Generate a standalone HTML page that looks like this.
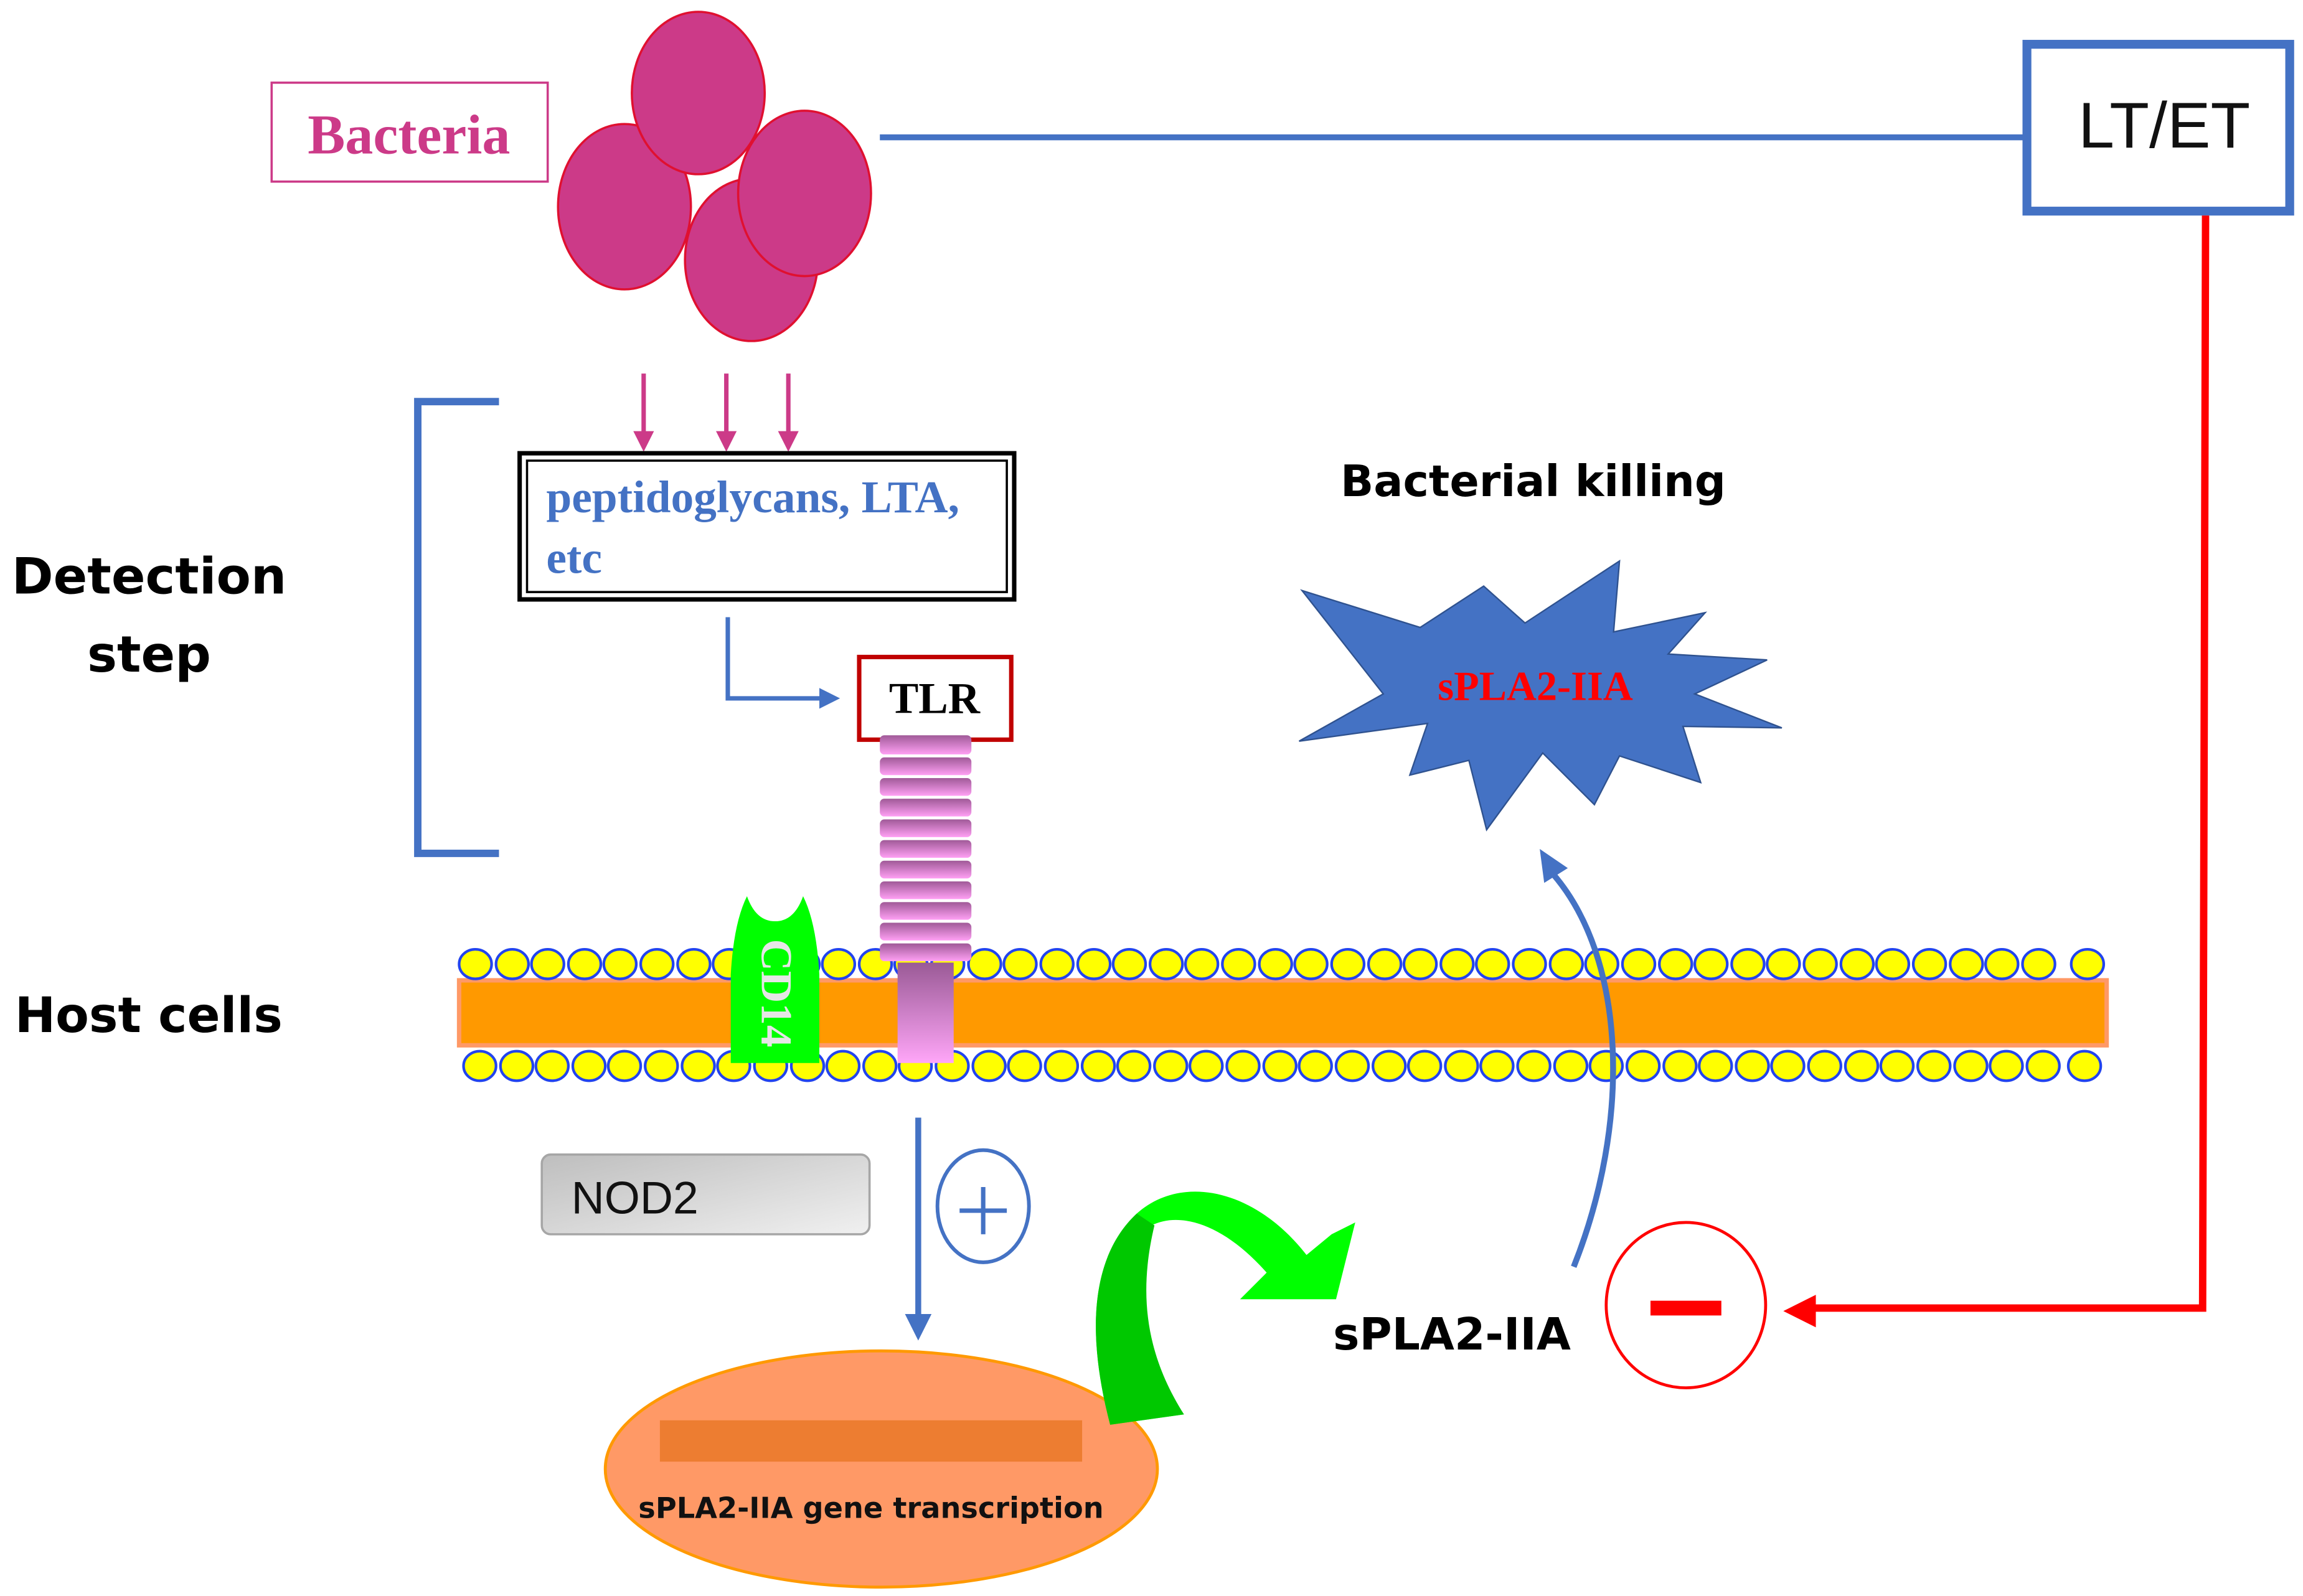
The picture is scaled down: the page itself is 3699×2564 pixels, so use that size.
<!DOCTYPE html>
<html><head><meta charset="utf-8"><style>html,body{margin:0;padding:0;background:#fff}svg{display:block}</style></head>
<body>
<svg width="3699" height="2564" viewBox="0 0 1560 1081" xmlns="http://www.w3.org/2000/svg" preserveAspectRatio="none">
<defs>
<linearGradient id="tl" x1="0" y1="0" x2="0" y2="1"><stop offset="0" stop-color="#A05A98"/><stop offset="1" stop-color="#FFA0F4"/></linearGradient>
<linearGradient id="st" x1="0" y1="0" x2="0" y2="1"><stop offset="0" stop-color="#9A5A96"/><stop offset="1" stop-color="#FFA6F8"/></linearGradient>
<linearGradient id="nd" x1="0" y1="0" x2="1" y2="1"><stop offset="0" stop-color="#BEBEBE"/><stop offset="1" stop-color="#F0F0F0"/></linearGradient>
</defs>
<rect width="1560" height="1081" fill="#fff"/>
<!-- bacteria -->
<rect x="184" y="56" width="187" height="67" fill="#fff" stroke="#CC3A88" stroke-width="1.5"/>
<text x="277" y="104" text-anchor="middle" font-family="Liberation Serif, serif" font-weight="bold" font-size="38" fill="#CC3A88">Bacteria</text>
<g fill="#CC3A88" stroke="#E01030" stroke-width="1.5">
<ellipse cx="423" cy="140" rx="45" ry="56"/>
<ellipse cx="509" cy="176" rx="45" ry="55"/>
<ellipse cx="473" cy="63" rx="45" ry="55"/>
<ellipse cx="545" cy="131" rx="45" ry="56"/>
</g>
<!-- LT/ET -->
<line x1="596" y1="93" x2="1372" y2="93" stroke="#4472C4" stroke-width="4"/>
<rect x="1373" y="30" width="178" height="113" fill="#fff" stroke="#4472C4" stroke-width="6"/>
<text x="1466" y="100" text-anchor="middle" font-family="Liberation Sans, sans-serif" font-size="44" fill="#111">LT/ET</text>
<polyline points="1494,146 1492,886 1225,886" fill="none" stroke="#FF0000" stroke-width="5"/>
<polygon points="1208,888 1230,877 1230,899" fill="#FF0000"/>
<!-- bracket -->
<polyline points="338,272 283,272 283,578 338,578" fill="none" stroke="#4472C4" stroke-width="5"/>
<text x="101" y="402" text-anchor="middle" font-family="DejaVu Sans, sans-serif" font-weight="bold" font-size="34" fill="#000">Detection</text>
<text x="101" y="455" text-anchor="middle" font-family="DejaVu Sans, sans-serif" font-weight="bold" font-size="34" fill="#000">step</text>
<text x="10" y="699" font-family="DejaVu Sans, sans-serif" font-weight="bold" font-size="33" fill="#000">Host cells</text>
<!-- pink arrows -->
<g stroke="#CC3A88" stroke-width="3"><line x1="436" y1="253" x2="436" y2="298"/><line x1="492" y1="253" x2="492" y2="298"/><line x1="534" y1="253" x2="534" y2="298"/></g>
<g fill="#CC3A88"><polygon points="429,292 443,292 436,306"/><polygon points="485,292 499,292 492,306"/><polygon points="527,292 541,292 534,306"/></g>
<!-- peptidoglycans -->
<rect x="352" y="307" width="335" height="99" fill="#fff" stroke="#000" stroke-width="3"/>
<rect x="357" y="312" width="325" height="89" fill="none" stroke="#000" stroke-width="1.5"/>
<text font-family="Liberation Serif, serif" font-weight="bold" font-size="31" fill="#4472C4"><tspan x="370" y="347">peptidoglycans, LTA,</tspan><tspan x="370" y="388">etc</tspan></text>
<polyline points="493,418 493,473 558,473" fill="none" stroke="#4472C4" stroke-width="3"/>
<polygon points="569,473 555,466 555,480" fill="#4472C4"/>
<!-- TLR -->
<rect x="582" y="445" width="103" height="56" fill="#fff" stroke="#C00000" stroke-width="3"/>
<text x="633" y="483" text-anchor="middle" font-family="Liberation Serif, serif" font-weight="bold" font-size="30" fill="#000">TLR</text>
<!-- membrane -->
<rect x="311" y="664" width="1116" height="44" fill="#FF9900" stroke="#FF9966" stroke-width="3"/>
<g fill="#FFFF00" stroke="#2244EE" stroke-width="1.8">
<ellipse cx="322" cy="653" rx="11" ry="10"/><ellipse cx="347" cy="653" rx="11" ry="10"/><ellipse cx="371" cy="653" rx="11" ry="10"/><ellipse cx="396" cy="653" rx="11" ry="10"/><ellipse cx="420" cy="653" rx="11" ry="10"/><ellipse cx="445" cy="653" rx="11" ry="10"/><ellipse cx="470" cy="653" rx="11" ry="10"/><ellipse cx="494" cy="653" rx="11" ry="10"/><ellipse cx="519" cy="653" rx="11" ry="10"/><ellipse cx="544" cy="653" rx="11" ry="10"/><ellipse cx="568" cy="653" rx="11" ry="10"/><ellipse cx="593" cy="653" rx="11" ry="10"/><ellipse cx="617" cy="653" rx="11" ry="10"/><ellipse cx="642" cy="653" rx="11" ry="10"/><ellipse cx="667" cy="653" rx="11" ry="10"/><ellipse cx="691" cy="653" rx="11" ry="10"/><ellipse cx="716" cy="653" rx="11" ry="10"/><ellipse cx="741" cy="653" rx="11" ry="10"/><ellipse cx="765" cy="653" rx="11" ry="10"/><ellipse cx="790" cy="653" rx="11" ry="10"/><ellipse cx="814" cy="653" rx="11" ry="10"/><ellipse cx="839" cy="653" rx="11" ry="10"/><ellipse cx="864" cy="653" rx="11" ry="10"/><ellipse cx="888" cy="653" rx="11" ry="10"/><ellipse cx="913" cy="653" rx="11" ry="10"/><ellipse cx="938" cy="653" rx="11" ry="10"/><ellipse cx="962" cy="653" rx="11" ry="10"/><ellipse cx="987" cy="653" rx="11" ry="10"/><ellipse cx="1011" cy="653" rx="11" ry="10"/><ellipse cx="1036" cy="653" rx="11" ry="10"/><ellipse cx="1061" cy="653" rx="11" ry="10"/><ellipse cx="1085" cy="653" rx="11" ry="10"/><ellipse cx="1110" cy="653" rx="11" ry="10"/><ellipse cx="1135" cy="653" rx="11" ry="10"/><ellipse cx="1159" cy="653" rx="11" ry="10"/><ellipse cx="1184" cy="653" rx="11" ry="10"/><ellipse cx="1208" cy="653" rx="11" ry="10"/><ellipse cx="1233" cy="653" rx="11" ry="10"/><ellipse cx="1258" cy="653" rx="11" ry="10"/><ellipse cx="1282" cy="653" rx="11" ry="10"/><ellipse cx="1307" cy="653" rx="11" ry="10"/><ellipse cx="1332" cy="653" rx="11" ry="10"/><ellipse cx="1356" cy="653" rx="11" ry="10"/><ellipse cx="1381" cy="653" rx="11" ry="10"/><ellipse cx="1414" cy="653" rx="11" ry="10"/>
</g>
<g fill="#FFFF00" stroke="#2244EE" stroke-width="1.8">
<ellipse cx="325" cy="722" rx="11" ry="10"/><ellipse cx="350" cy="722" rx="11" ry="10"/><ellipse cx="374" cy="722" rx="11" ry="10"/><ellipse cx="399" cy="722" rx="11" ry="10"/><ellipse cx="423" cy="722" rx="11" ry="10"/><ellipse cx="448" cy="722" rx="11" ry="10"/><ellipse cx="473" cy="722" rx="11" ry="10"/><ellipse cx="497" cy="722" rx="11" ry="10"/><ellipse cx="522" cy="722" rx="11" ry="10"/><ellipse cx="547" cy="722" rx="11" ry="10"/><ellipse cx="571" cy="722" rx="11" ry="10"/><ellipse cx="596" cy="722" rx="11" ry="10"/><ellipse cx="620" cy="722" rx="11" ry="10"/><ellipse cx="645" cy="722" rx="11" ry="10"/><ellipse cx="670" cy="722" rx="11" ry="10"/><ellipse cx="694" cy="722" rx="11" ry="10"/><ellipse cx="719" cy="722" rx="11" ry="10"/><ellipse cx="744" cy="722" rx="11" ry="10"/><ellipse cx="768" cy="722" rx="11" ry="10"/><ellipse cx="793" cy="722" rx="11" ry="10"/><ellipse cx="817" cy="722" rx="11" ry="10"/><ellipse cx="842" cy="722" rx="11" ry="10"/><ellipse cx="867" cy="722" rx="11" ry="10"/><ellipse cx="891" cy="722" rx="11" ry="10"/><ellipse cx="916" cy="722" rx="11" ry="10"/><ellipse cx="941" cy="722" rx="11" ry="10"/><ellipse cx="965" cy="722" rx="11" ry="10"/><ellipse cx="990" cy="722" rx="11" ry="10"/><ellipse cx="1014" cy="722" rx="11" ry="10"/><ellipse cx="1039" cy="722" rx="11" ry="10"/><ellipse cx="1064" cy="722" rx="11" ry="10"/><ellipse cx="1088" cy="722" rx="11" ry="10"/><ellipse cx="1113" cy="722" rx="11" ry="10"/><ellipse cx="1138" cy="722" rx="11" ry="10"/><ellipse cx="1162" cy="722" rx="11" ry="10"/><ellipse cx="1187" cy="722" rx="11" ry="10"/><ellipse cx="1211" cy="722" rx="11" ry="10"/><ellipse cx="1236" cy="722" rx="11" ry="10"/><ellipse cx="1261" cy="722" rx="11" ry="10"/><ellipse cx="1285" cy="722" rx="11" ry="10"/><ellipse cx="1310" cy="722" rx="11" ry="10"/><ellipse cx="1335" cy="722" rx="11" ry="10"/><ellipse cx="1359" cy="722" rx="11" ry="10"/><ellipse cx="1384" cy="722" rx="11" ry="10"/><ellipse cx="1412" cy="722" rx="11" ry="10"/>
</g>
<!-- TLR stack -->
<g fill="url(#tl)">
<rect x="596" y="498" width="62" height="13" rx="3"/><rect x="596" y="513" width="62" height="12" rx="3"/><rect x="596" y="527" width="62" height="12" rx="3"/><rect x="596" y="541" width="62" height="12" rx="3"/><rect x="596" y="555" width="62" height="12" rx="3"/><rect x="596" y="569" width="62" height="12" rx="3"/><rect x="596" y="583" width="62" height="12" rx="3"/><rect x="596" y="597" width="62" height="12" rx="3"/><rect x="596" y="611" width="62" height="12" rx="3"/><rect x="596" y="625" width="62" height="12" rx="3"/><rect x="596" y="639" width="62" height="12" rx="3"/>
</g>
<rect x="608" y="652" width="38" height="68" fill="url(#st)"/>
<!-- CD14 -->
<path d="M495,720 L495,660 Q497,625 506,607 Q512,624 525,624 Q538,624 544,607 Q553,625 555,660 L555,720 Z" fill="#00FF00"/>
<text transform="translate(516,636) rotate(90)" font-family="Liberation Serif, serif" font-weight="bold" font-size="30" fill="#E6E6E6">CD14</text>
<!-- Bacterial killing -->
<text x="908" y="336" font-family="DejaVu Sans, sans-serif" font-weight="bold" font-size="29.5" fill="#000">Bacterial killing</text>
<polygon points="882,400 962,425 1005,397 1033,422 1097,380 1093,428 1155,415 1130,443 1197,447 1148,470 1207,493 1140,492 1152,530 1097,512 1080,545 1045,510 1007,562 995,515 955,525 967,490 880,502 937,470" fill="#4472C4" stroke="#2F528F" stroke-width="1"/>
<text x="1040" y="474" text-anchor="middle" font-family="Liberation Serif, serif" font-weight="bold" font-size="28" fill="#FF0000">sPLA2-IIA</text>
<!-- NOD2 -->
<rect x="367" y="782" width="222" height="54" rx="6" fill="url(#nd)" stroke="#A6A6A6" stroke-width="1.5"/>
<text x="387" y="822" font-family="Liberation Sans, sans-serif" font-size="31" fill="#111">NOD2</text>
<!-- plus -->
<ellipse cx="666" cy="817" rx="31" ry="38" fill="#fff" stroke="#4472C4" stroke-width="2.5"/>
<line x1="650" y1="820" x2="682" y2="820" stroke="#4472C4" stroke-width="3"/>
<line x1="666" y1="804" x2="666" y2="836" stroke="#4472C4" stroke-width="3"/>
<!-- down arrow -->
<line x1="622" y1="757" x2="622" y2="895" stroke="#4472C4" stroke-width="4"/>
<polygon points="613,890 631,890 622,908" fill="#4472C4"/>
<!-- nucleus -->
<ellipse cx="597" cy="995" rx="187" ry="80" fill="#FF9966" stroke="#FF9900" stroke-width="2"/>
<rect x="447" y="962" width="286" height="28" fill="#ED7D31"/>
<text x="590" y="1028" text-anchor="middle" font-family="DejaVu Sans, sans-serif" font-weight="bold" font-size="19.5" fill="#111">sPLA2-IIA gene transcription</text>
<!-- green arrow -->
<path d="M752,965 C735,900 740,850 770,822 C800,795 850,805 885,850 L902,836 L918,828 L905,880 L840,880 L858,862 C830,830 800,820 780,830 C765,880 775,920 802,958 Z" fill="#00FF00"/>
<path d="M752,965 C735,900 740,850 770,822 L782,830 C770,880 778,920 802,958 Z" fill="#00C800"/>
<!-- sPLA2-IIA -->
<text x="903" y="914" font-family="DejaVu Sans, sans-serif" font-weight="bold" font-size="30" fill="#000">sPLA2-IIA</text>
<!-- blue curve -->
<path d="M1066,858 C1105,760 1102,650 1052,592" fill="none" stroke="#4472C4" stroke-width="4"/>
<polygon points="1043,575 1062,588 1046,598" fill="#4472C4"/>
<!-- minus -->
<ellipse cx="1142" cy="884" rx="54" ry="56" fill="#fff" stroke="#FF0000" stroke-width="2"/>
<rect x="1118" y="881" width="48" height="10" fill="#FF0000"/>
</svg>
</body></html>
